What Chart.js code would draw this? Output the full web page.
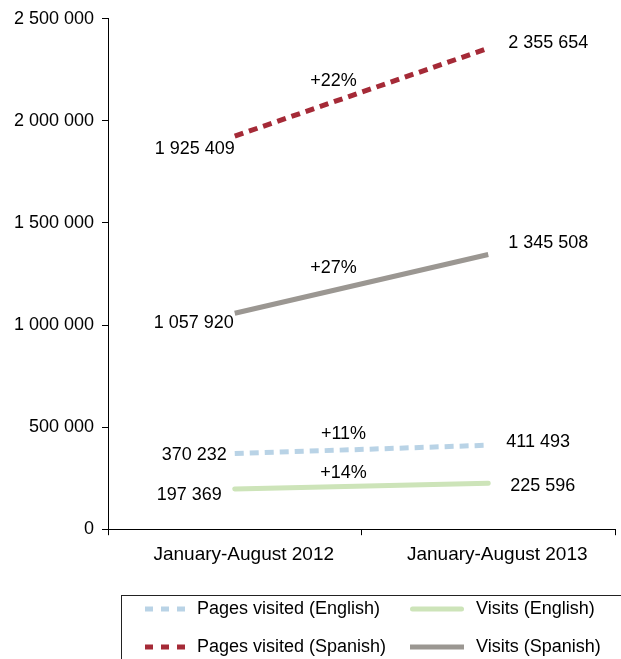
<!DOCTYPE html>
<html><head><meta charset="utf-8">
<script src="https://cdn.jsdelivr.net/npm/chart.js@4/dist/chart.umd.min.js"></script>
<style>html,body{margin:0;padding:0;background:#fff}#wrap{width:621px;height:659px;position:relative}</style>
</head><body><div id="wrap"><canvas id="c" width="621" height="659"></canvas></div>
<script>
const categories = ['January-August 2012', 'January-August 2013'];
const pagesEnglish = [370232, 411493];
const visitsEnglish = [197369, 225596];
const pagesSpanish = [1925409, 2355654];
const visitsSpanish = [1057920, 1345508];
const yTicks = [0, 500000, 1000000, 1500000, 2000000, 2500000];
const seriesNames = ['Pages visited (English)', 'Visits (English)', 'Pages visited (Spanish)', 'Visits (Spanish)'];

const FONT = "'Liberation Sans', Arial, sans-serif";
const FS = 18;
Chart.defaults.font.family = FONT;
Chart.defaults.font.size = FS;
Chart.defaults.color = '#000';

function fmt(n) { return String(n).replace(/\B(?=(\d{3})+(?!\d))/g, ' '); }

// styles (not data)
const styles = [
  { color: '#b9d3e6', dash: [9, 6], cap: 'butt', start: [-8, 1], end: [18, -3], pct: [-18, -15] },
  { color: '#cde4b9', dash: [], cap: 'round', start: [-13, 6], end: [22, 3], pct: [-18, -13] },
  { color: '#a52a37', dash: [9, 6], cap: 'butt', start: [0, 13], end: [20, -5], pct: [-28, -11] },
  { color: '#9b9792', dash: [], cap: 'butt', start: [-1, 10], end: [20, -11], pct: [-28, -16] }
];
const seriesData = [pagesEnglish, visitsEnglish, pagesSpanish, visitsSpanish];

const labelPlugin = {
  id: 'labels',
  afterDatasetsDraw(chart) {
    const ctx = chart.ctx;
    ctx.save();
    ctx.font = FS + 'px ' + FONT;
    ctx.fillStyle = '#000';
    ctx.textBaseline = 'middle';
    chart.data.datasets.forEach((ds, i) => {
      const meta = chart.getDatasetMeta(i);
      const p0 = meta.data[0], p1 = meta.data[1];
      const st = styles[i];
      ctx.textAlign = 'right';
      ctx.fillText(fmt(ds.data[0]), p0.x + st.start[0], p0.y + st.start[1]);
      ctx.textAlign = 'left';
      ctx.fillText(fmt(ds.data[1]), p1.x + st.end[0], p1.y + st.end[1]);
      const pct = Math.round((ds.data[1] / ds.data[0] - 1) * 100);
      ctx.textAlign = 'center';
      ctx.fillText('+' + pct + '%', (p0.x + p1.x) / 2 + st.pct[0], (p0.y + p1.y) / 2 + st.pct[1]);
    });
    ctx.restore();
  }
};

const legendPlugin = {
  id: 'boxLegend',
  afterDraw(chart) {
    const ctx = chart.ctx;
    ctx.save();
    ctx.strokeStyle = '#222';
    ctx.lineWidth = 1;
    ctx.strokeRect(121.5, 595.5, 600, 200);
    const items = [
      { i: 0, x: 145, tx: 197, y: 609, w: 40 },
      { i: 1, x: 410, tx: 476, y: 609, w: 54 },
      { i: 2, x: 145, tx: 197, y: 647, w: 40 },
      { i: 3, x: 410, tx: 476, y: 647, w: 54 }
    ];
    ctx.font = FS + 'px ' + FONT;
    ctx.textBaseline = 'middle';
    ctx.textAlign = 'left';
    items.forEach(it => {
      const st = styles[it.i];
      ctx.strokeStyle = st.color;
      ctx.lineWidth = 5;
      ctx.lineCap = st.cap;
      ctx.setLineDash(st.dash.length ? [8, 8] : []);
      ctx.beginPath();
      const x0 = st.cap === 'round' ? it.x + 2.5 : it.x;
      const x1 = st.cap === 'round' ? it.x + it.w - 2.5 : it.x + it.w;
      ctx.moveTo(x0, it.y);
      ctx.lineTo(x1, it.y);
      ctx.stroke();
      ctx.setLineDash([]);
      ctx.fillStyle = '#000';
      ctx.fillText(seriesNames[it.i], it.tx, it.y);
    });
    ctx.restore();
  }
};

new Chart(document.getElementById('c'), {
  type: 'line',
  data: {
    labels: categories,
    datasets: seriesData.map((d, i) => ({
      label: seriesNames[i],
      data: d,
      borderColor: styles[i].color,
      backgroundColor: styles[i].color,
      borderWidth: 5,
      borderDash: styles[i].dash,
      borderCapStyle: styles[i].cap,
      pointRadius: 0,
      pointHoverRadius: 0,
      tension: 0,
      fill: false
    }))
  },
  options: {
    responsive: false,
    animation: false,
    devicePixelRatio: 1,
    layout: { padding: { left: 0, right: 6, top: 18, bottom: 85 } },
    plugins: { legend: { display: false }, tooltip: { enabled: false } },
    scales: {
      x: {
        offset: true,
        grid: { offset: true, drawOnChartArea: false, tickLength: 6, color: '#000' },
        border: { color: '#000', width: 1 },
        ticks: { color: '#000', font: { size: 19 }, padding: 8, maxRotation: 0, labelOffset: 9 }
      },
      y: {
        min: 0, max: 2500000,
        afterBuildTicks(scale) { scale.ticks = yTicks.map(v => ({ value: v })); },
        afterFit(scale) { scale.width = 108; },
        grid: { drawOnChartArea: false, tickLength: 6, color: '#000' },
        border: { color: '#000', width: 1 },
        ticks: { color: '#000', font: { size: FS }, padding: 8, callback: v => fmt(v) }
      }
    }
  },
  plugins: [labelPlugin, legendPlugin]
});
</script></body></html>
